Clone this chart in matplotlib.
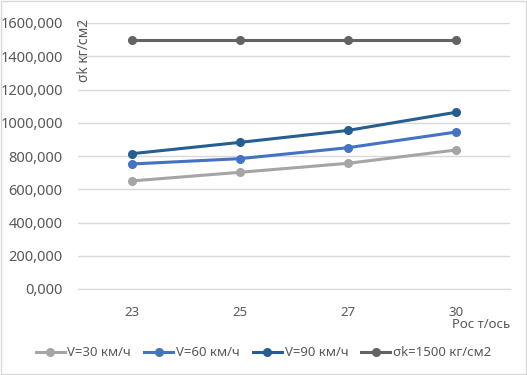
import matplotlib.pyplot as plt
from matplotlib.patches import Rectangle
from matplotlib.ticker import FuncFormatter

plt.rcParams['font.family'] = ['Noto Sans', 'DejaVu Sans']

categories = ['23', '25', '27', '30']
v30 = [650, 702, 756, 836]
v60 = [752, 784, 850, 944]
v90 = [814, 882, 954, 1063]
limit = [1500, 1500, 1500, 1500]

series = [
    (v30, 'V=30 км/ч', '#A5A5A5'),
    (v60, 'V=60 км/ч', '#4472C4'),
    (v90, 'V=90 км/ч', '#255E91'),
    (limit, 'σk=1500 кг/см2', '#636363'),
]

fig = plt.figure(figsize=(5.27, 3.75), dpi=100)
ax = fig.add_axes([78 / 527, 1 - 289 / 375, 432 / 527, 266 / 375])

x = range(len(categories))
for vals, label, color in series:
    ax.plot(x, vals, color=color, lw=2.2, marker='o', ms=5.5, label=label)

ax.set_xlim(-0.5, len(categories) - 0.5)
ax.set_ylim(0, 1600)
ax.set_yticks(range(0, 1601, 200))
ax.yaxis.set_major_formatter(FuncFormatter(lambda v, p: f'{int(v)},000'))
ax.set_xticks(list(x))
ax.set_xticklabels(categories)
ax.grid(axis='y', color='#D9D9D9', lw=1)
ax.set_axisbelow(True)
for s in ['top', 'right', 'left']:
    ax.spines[s].set_visible(False)
ax.spines['bottom'].set_color('#D9D9D9')
ax.tick_params(axis='both', length=0, colors='#595959', labelsize=9.5)
ax.tick_params(axis='y', labelsize=10.5, pad=11)
ax.tick_params(axis='x', pad=12)

fig.text(85 / 527, 1 - 19 / 375, 'σk кг/см2', rotation=90, ha='center', va='top',
         color='#595959', fontsize=10)
fig.text(510 / 527, 1 - 325 / 375, 'Рос т/ось', ha='right', va='center',
         color='#595959', fontsize=9.5)

fig.legend(loc='center', bbox_to_anchor=(0.5, 1 - 353 / 375), ncol=4, frameon=False,
           fontsize=9.5, handlelength=2.2, handletextpad=0.2, columnspacing=1.0,
           labelcolor='#595959')

fig.patches.append(Rectangle((0.001, 0.002), 0.997, 0.995, transform=fig.transFigure,
                             fill=False, edgecolor='#D9D9D9', lw=1))

fig.savefig('out.png', dpi=100)
